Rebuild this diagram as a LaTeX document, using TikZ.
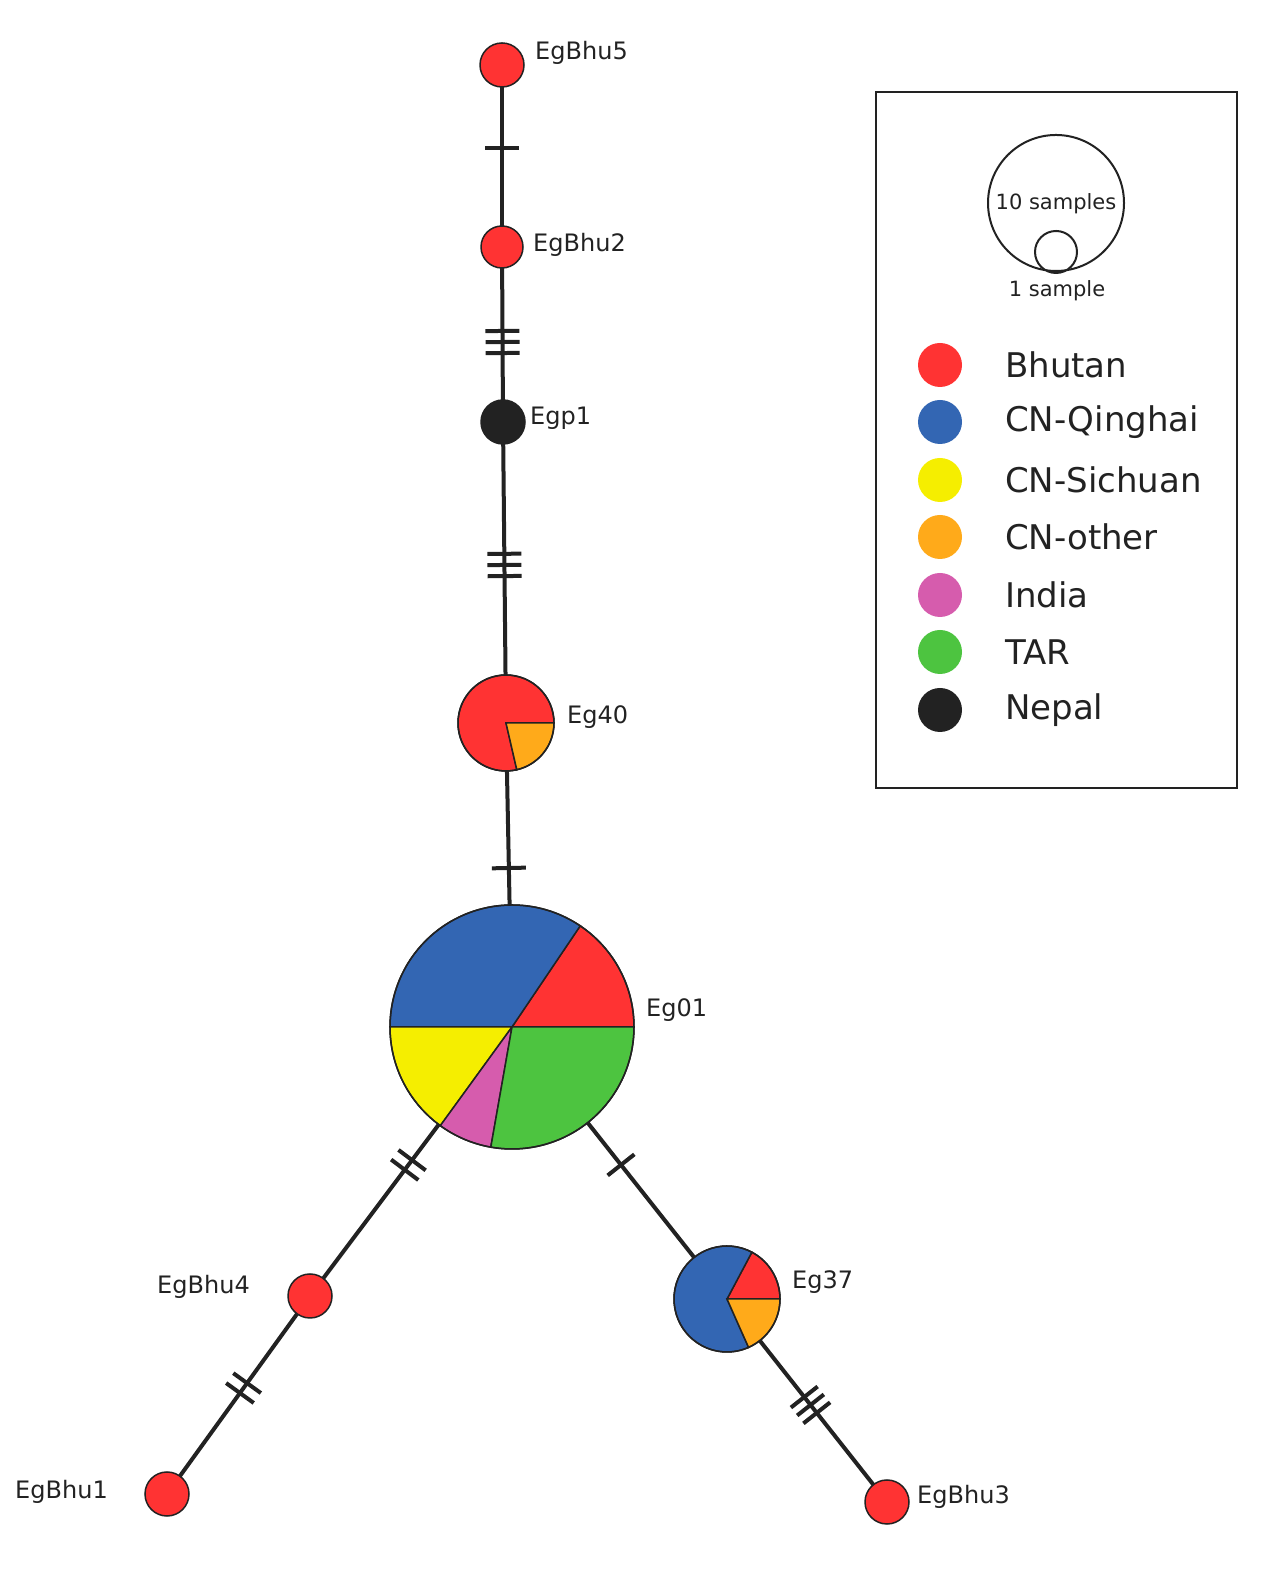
\documentclass[tikz,border=0pt]{standalone}
\usepackage{fontspec}
\setmainfont{DejaVu Sans}
\usetikzlibrary{decorations.markings}
\definecolor{cR}{HTML}{FF3333}
\definecolor{cB}{HTML}{3366B3}
\definecolor{cY}{HTML}{F5EE00}
\definecolor{cO}{HTML}{FFAA1A}
\definecolor{cP}{HTML}{D65CAD}
\definecolor{cG}{HTML}{4DC440}
\definecolor{cK}{HTML}{222222}
\newcommand\slice[5]{\filldraw[fill=#5,draw=cK,line width=1.5pt] (#1) -- ++(#3:#2) arc[start angle=#3,end angle=#4,radius=#2] -- cycle;}
\tikzset{edge/.style={line width=4pt,draw=cK},
 tickat/.style={postaction={decorate,decoration={markings,mark=at position #1 with {\draw[line width=4pt,cK] (0,-17pt)--(0,17pt);}}}},
 hap/.style={circle,draw=cK,line width=1.5pt,inner sep=0pt},
 lab/.style={font=\fontsize{24}{24}\selectfont,text=cK,inner sep=0pt},
 leg/.style={font=\fontsize{34}{34}\selectfont,text=cK,inner sep=0pt,anchor=west}}
\begin{document}
\begin{tikzpicture}[x=1pt,y=1pt]
\useasboundingbox (0,0) rectangle (1272,1570);
\coordinate (b5) at (502,1505);
\coordinate (b2) at (502,1323);
\coordinate (p1) at (503,1148);
\coordinate (e40) at (506,847);
\coordinate (e01) at (512,543);
\coordinate (b4) at (310,274);
\coordinate (b1) at (167,76);
\coordinate (e37) at (727,271);
\coordinate (b3) at (887,68);
\draw[edge,tickat=0.456] (b5)--(b2);
\draw[edge,tickat=0.48,tickat=0.543,tickat=0.606] (b2)--(p1);
\draw[edge,tickat=0.438,tickat=0.475,tickat=0.512] (p1)--(e40);
\draw[edge,tickat=0.477] (e40)--(e01);
\draw[edge,tickat=0.495,tickat=0.531] (e01)--(b4);
\draw[edge,tickat=0.44,tickat=0.49] (b4)--(b1);
\draw[edge,tickat=0.507] (e01)--(e37);
\draw[edge,tickat=0.483,tickat=0.522,tickat=0.561] (e37)--(b3);
% simple nodes
\node[hap,fill=cR,minimum size=44pt] (n5) at (b5) {};
\node[hap,fill=cR,minimum size=42pt] (n2) at (b2) {};
\node[hap,fill=cK,minimum size=44pt] (np) at (p1) {};
\node[hap,fill=cR,minimum size=44pt] (n4) at (b4) {};
\node[hap,fill=cR,minimum size=44pt] (n1) at (b1) {};
\node[hap,fill=cR,minimum size=44pt] (n3) at (b3) {};
% Eg40
\slice{e40}{48}{0}{283}{cR}
\slice{e40}{48}{283}{360}{cO}
\draw[cK,line width=1.5pt] (e40) circle[radius=48];
% Eg01
\slice{e01}{122}{0}{56}{cR}
\slice{e01}{122}{56}{180}{cB}
\slice{e01}{122}{180}{234}{cY}
\slice{e01}{122}{234}{260}{cP}
\slice{e01}{122}{260}{360}{cG}
\draw[cK,line width=1.5pt] (e01) circle[radius=122];
% Eg37
\slice{e37}{53}{0}{62}{cR}
\slice{e37}{53}{62}{294}{cB}
\slice{e37}{53}{294}{360}{cO}
\draw[cK,line width=1.5pt] (e37) circle[radius=53];
% labels
\node[lab,anchor=west] (l5) at (535,1517) {EgBhu5};
\node[lab,anchor=west] (l2) at (533,1325) {EgBhu2};
\node[lab,anchor=west] (lp) at (530,1152) {Egp1};
\node[lab,anchor=west] (l40) at (567,853) {Eg40};
\node[lab,anchor=west] (l01) at (646,560) {Eg01};
\node[lab,anchor=east] (l4) at (250,283) {EgBhu4};
\node[lab,anchor=east] (l1) at (108,78) {EgBhu1};
\node[lab,anchor=west] (l37) at (792,288) {Eg37};
\node[lab,anchor=west] (l3) at (917,73) {EgBhu3};
% legend
\draw[cK,line width=2pt] (876,782) rectangle (1237,1478);
\draw[cK,line width=2pt] (1056,1367) circle[radius=68];
\draw[cK,line width=2pt] (1056,1318) circle[radius=21];
\node[font=\fontsize{21}{21}\selectfont,text=cK] (t10) at (1056,1366) {10 samples};
\node[font=\fontsize{21}{21}\selectfont,text=cK] (t1) at (1057,1279) {1 sample};
\foreach \c/\t/\y [count=\i] in {cR/Bhutan/1205,cB/CN-Qinghai/1148,cY/CN-Sichuan/1090,cO/CN-other/1033,cP/India/975,cG/TAR/918,cK/Nepal/860}{
 \fill[\c] (940,\y) circle[radius=22];
 \node[leg] (lg\i) at (1005,\y) {\t};
}
\end{tikzpicture}
\end{document}
